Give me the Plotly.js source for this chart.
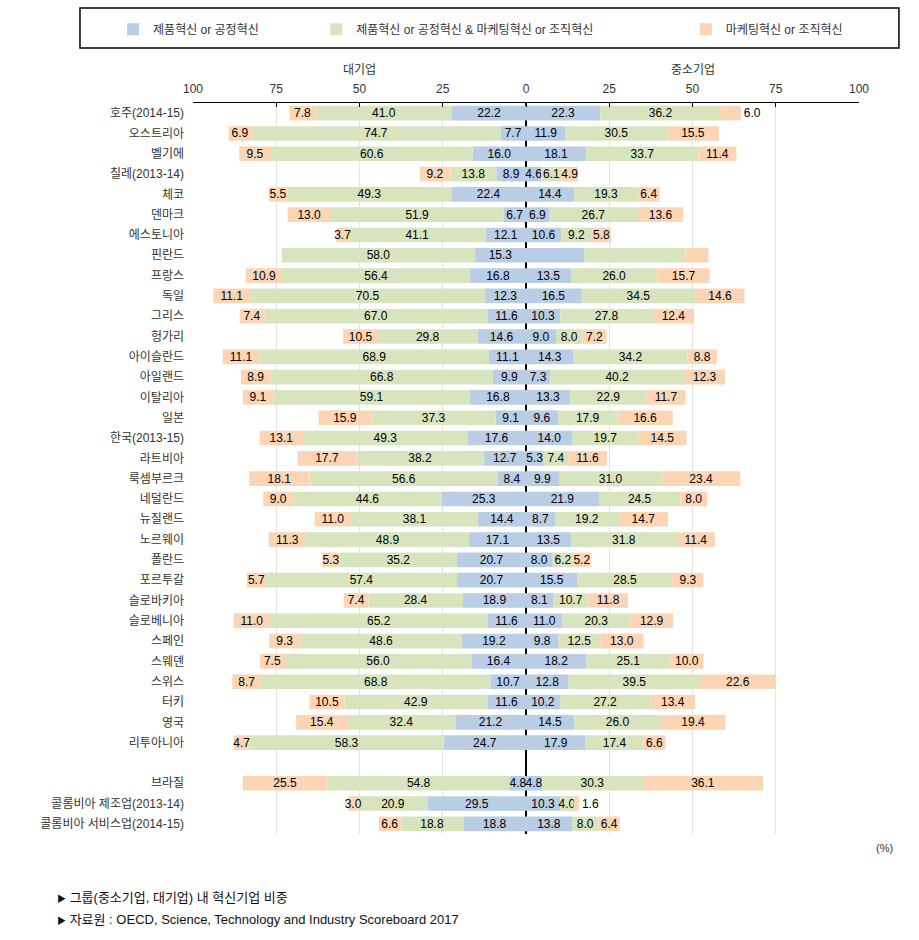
<!DOCTYPE html>
<html>
<head>
<meta charset="utf-8">
<script src="https://cdn.plot.ly/plotly-3.0.1.min.js"></script>
<style>html,body{margin:0;padding:0;background:#fff;}#chart{width:919px;height:940px;}</style>
</head>
<body>
<div id="chart"></div>
<script>
const categories = ['호주(2014-15)','오스트리아','벨기에','칠레(2013-14)','체코','덴마크','에스토니아','핀란드','프랑스','독일','그리스','헝가리','아이슬란드','아일랜드','이탈리아','일본','한국(2013-15)','라트비아','룩셈부르크','네덜란드','뉴질랜드','노르웨이','폴란드','포르투갈','슬로바키아','슬로베니아','스페인','스웨덴','스위스','터키','영국','리투아니아',' ','브라질','콜롬비아 제조업(2013-14)','콜롬비아 서비스업(2014-15)'];

// 대기업 (large firms)
const largeProd = [22.2,7.7,16.0,8.9,22.4,6.7,12.1,15.3,16.8,12.3,11.6,14.6,11.1,9.9,16.8,9.1,17.6,12.7,8.4,25.3,14.4,17.1,20.7,20.7,18.9,11.6,19.2,16.4,10.7,11.6,21.2,24.7,null,4.8,29.5,18.8];
const largeBoth = [41.0,74.7,60.6,13.8,49.3,51.9,41.1,58.0,56.4,70.5,67.0,29.8,68.9,66.8,59.1,37.3,49.3,38.2,56.6,44.6,38.1,48.9,35.2,57.4,28.4,65.2,48.6,56.0,68.8,42.9,32.4,58.3,null,54.8,20.9,18.8];
const largeMkt  = [7.8,6.9,9.5,9.2,5.5,13.0,3.7,null,10.9,11.1,7.4,10.5,11.1,8.9,9.1,15.9,13.1,17.7,18.1,9.0,11.0,11.3,5.3,5.7,7.4,11.0,9.3,7.5,8.7,10.5,15.4,4.7,null,25.5,3.0,6.6];

// 중소기업 (SMEs)
const smeProd = [22.3,11.9,18.1,4.6,14.4,6.9,10.6,17.5,13.5,16.5,10.3,9.0,14.3,7.3,13.3,9.6,14.0,5.3,9.9,21.9,8.7,13.5,8.0,15.5,8.1,11.0,9.8,18.2,12.8,10.2,14.5,17.9,null,4.8,10.3,13.8];
const smeBoth = [36.2,30.5,33.7,6.1,19.3,26.7,9.2,30.4,26.0,34.5,27.8,8.0,34.2,40.2,22.9,17.9,19.7,7.4,31.0,24.5,19.2,31.8,6.2,28.5,10.7,20.3,12.5,25.1,39.5,27.2,26.0,17.4,null,30.3,4.0,8.0];
const smeMkt  = [6.0,15.5,11.4,4.9,6.4,13.6,5.8,6.9,15.7,14.6,12.4,7.2,8.8,12.3,11.7,16.6,14.5,11.6,23.4,8.0,14.7,11.4,5.2,9.3,11.8,12.9,13.0,10.0,22.6,13.4,19.4,6.6,null,36.1,1.6,6.4];
const smeNoLabel = ['핀란드'];
const smeMktOutside = ['호주(2014-15)','콜롬비아 제조업(2013-14)'];

const seriesNames = ['제품혁신 or 공정혁신','제품혁신 or 공정혁신 & 마케팅혁신 or 조직혁신','마케팅혁신 or 조직혁신'];
const seriesColors = ['#b9cde5','#d7e4bd','#fcd5b5'];
const tickVals = [-100,-75,-50,-25,0,25,50,75,100];
const tickText = ['100','75','50','25','0','25','50','75','100'];

const FONT = 'Liberation Sans, Arial, "Noto Sans CJK KR", sans-serif';
const labelFont = {family: FONT, size: 12, color: '#000'};

function fmt(arr, hide) {
  return arr.map((v, i) => (v == null || (hide && hide.includes(categories[i]))) ? '' : v.toFixed(1));
}

const legendIds = ['legend','legend2','legend3'];
const traces = [];
[largeProd, largeBoth, largeMkt].forEach((arr, k) => {
  traces.push({
    type: 'bar', orientation: 'h', y: categories,
    x: arr.map(v => v == null ? null : -v),
    text: fmt(arr), textposition: 'inside', insidetextanchor: 'middle',
    constraintext: 'none', textangle: 0,
    textfont: labelFont, insidetextfont: labelFont, outsidetextfont: labelFont,
    marker: {color: seriesColors[k], line: {width: 0}},
    name: seriesNames[k], legendgroup: 'g' + k, showlegend: false,
    hoverinfo: 'skip', cliponaxis: false
  });
});
[smeProd, smeBoth, smeMkt].forEach((arr, k) => {
  const pos = categories.map(c => (k === 2 && smeMktOutside.includes(c)) ? 'outside' : 'inside');
  traces.push({
    type: 'bar', orientation: 'h', y: categories, x: arr,
    text: fmt(arr, smeNoLabel), textposition: pos, insidetextanchor: 'middle',
    constraintext: 'none', textangle: 0,
    textfont: labelFont, insidetextfont: labelFont, outsidetextfont: labelFont,
    marker: {color: seriesColors[k], line: {width: 0}},
    name: seriesNames[k], legendgroup: 'g' + k, showlegend: true,
    legend: legendIds[k],
    hoverinfo: 'skip', cliponaxis: false
  });
});

const legendBase = {
  orientation: 'h', yanchor: 'middle', xanchor: 'left', y: 1.101,
  bgcolor: 'rgba(0,0,0,0)', borderwidth: 0,
  font: {family: FONT, size: 12, color: '#333'}, itemclick: false, itemdoubleclick: false
};

const layout = {
  width: 919, height: 940,
  margin: {l: 193, r: 60, t: 103, b: 106},
  paper_bgcolor: '#fff', plot_bgcolor: '#fff',
  font: {family: FONT, size: 12, color: '#333'},
  barmode: 'relative', bargap: 0.28,
  xaxis: {
    range: [-100, 100], side: 'top', tickvals: tickVals, ticktext: tickText,
    showgrid: true, gridcolor: '#e3e3e3', gridwidth: 1,
    zeroline: true, zerolinecolor: '#000', zerolinewidth: 1.5,
    showline: true, linecolor: '#000', linewidth: 1,
    ticks: 'inside', ticklen: 4, tickcolor: '#000',
    tickfont: {family: FONT, size: 12, color: '#333'},
    ticklabelstandoff: 4, fixedrange: true
  },
  yaxis: {
    type: 'category', categoryorder: 'array', categoryarray: categories,
    autorange: 'reversed', showgrid: false, zeroline: false, showline: false,
    ticks: '', tickfont: {family: FONT, size: 12, color: '#333'},
    ticklabelstandoff: 8, fixedrange: true
  },
  showlegend: true,
  legend: Object.assign({}, legendBase, {x: -0.12}),
  legend2: Object.assign({}, legendBase, {x: 0.185}),
  legend3: Object.assign({}, legendBase, {x: 0.74}),
  shapes: [
    {type: 'rect', xref: 'paper', yref: 'paper', x0: -0.1697, x1: 1.06, y0: 1.0753, y1: 1.13,
     line: {color: '#000', width: 1.5}, fillcolor: 'rgba(0,0,0,0)', layer: 'below'}
  ],
  annotations: [
    {xref: 'x', yref: 'paper', x: -50, y: 1.045, text: '대기업', showarrow: false,
     font: {family: FONT, size: 12, color: '#333'}, xanchor: 'center', yanchor: 'middle'},
    {xref: 'x', yref: 'paper', x: 50, y: 1.045, text: '중소기업', showarrow: false,
     font: {family: FONT, size: 12, color: '#333'}, xanchor: 'center', yanchor: 'middle'},
    {xref: 'paper', yref: 'paper', x: 1.039, y: -0.019, text: '(%)', showarrow: false,
     font: {family: FONT, size: 11, color: '#333'}, xanchor: 'center', yanchor: 'middle'},
    {xref: 'paper', yref: 'paper', x: -0.2072, y: -0.0862, text: '<span style="font-size:9px">▶</span> 그룹(중소기업, 대기업) 내 혁신기업 비중', showarrow: false,
     font: {family: FONT, size: 13, color: '#111'}, xanchor: 'left', yanchor: 'middle'},
    {xref: 'paper', yref: 'paper', x: -0.2072, y: -0.1176, text: '<span style="font-size:9px">▶</span> 자료원 : OECD, Science, Technology and Industry Scoreboard 2017', showarrow: false,
     font: {family: FONT, size: 13, color: '#111'}, xanchor: 'left', yanchor: 'middle'}
  ]
};

Plotly.newPlot('chart', traces, layout, {displayModeBar: false, staticPlot: true});
</script>
</body>
</html>
